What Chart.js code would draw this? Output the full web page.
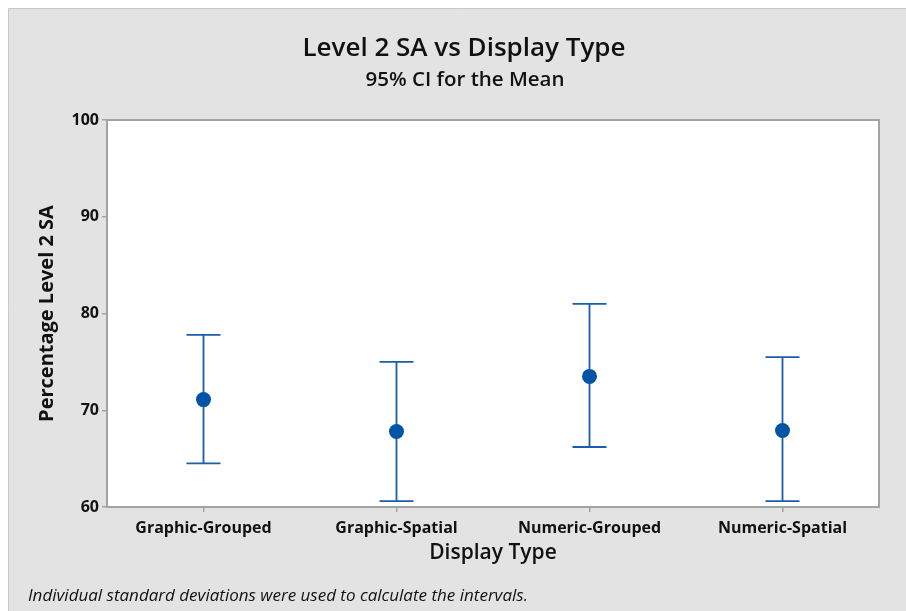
<!DOCTYPE html>
<html>
<head>
<meta charset="utf-8">
<script src="https://cdn.jsdelivr.net/npm/chart.js@4.4.1/dist/chart.umd.min.js"></script>
<style>
  body { margin: 0; background: #ffffff; }
  canvas { display: block; }
</style>
</head>
<body>
<canvas id="chart" width="906" height="611"></canvas>
<script>
// data
const categories = ['Graphic-Grouped', 'Graphic-Spatial', 'Numeric-Grouped', 'Numeric-Spatial'];
const means = [71.1, 67.8, 73.5, 67.9];
const lower = [64.5, 60.6, 66.2, 60.6];
const upper = [77.8, 75.0, 81.0, 75.5];
const yTicks = [60, 70, 80, 90, 100];

const titleText = 'Level 2 SA vs Display Type';
const subtitleText = '95% CI for the Mean';
const footerText = 'Individual standard deviations were used to calculate the intervals.';

const FONT = "'Open Sans', 'Noto Sans', sans-serif";

const colors = {
    panel: '#E3E3E3',
    panelEdge: '#C9C9C9',
    frame: '#A3A3A3',
    whisker: '#1A5DAB',
    marker: '#0054A6',
    text: '#111111',
};

// grey panel, white plot area, titles and footer
const backdrop = {
    id: 'backdrop',
    beforeDraw(chart) {
        const { ctx, chartArea: a, width, height } = chart;
        ctx.save();
        ctx.fillStyle = '#ffffff';
        ctx.fillRect(0, 0, width, height);
        ctx.fillStyle = colors.panel;
        ctx.fillRect(8, 8, width - 8, height - 8);
        ctx.strokeStyle = colors.panelEdge;
        ctx.lineWidth = 1;
        ctx.beginPath();
        ctx.moveTo(8.5, height);
        ctx.lineTo(8.5, 8.5);
        ctx.lineTo(width, 8.5);
        ctx.stroke();
        ctx.fillStyle = '#ffffff';
        ctx.fillRect(a.left, a.top, a.right - a.left, a.bottom - a.top);

        ctx.fillStyle = colors.text;
        ctx.textAlign = 'center';
        ctx.textBaseline = 'middle';
        ctx.font = '600 26px ' + FONT;
        ctx.fillText(titleText, 464, 49);
        ctx.font = '600 20.5px ' + FONT;
        ctx.fillText(subtitleText, 465, 80);

        ctx.textAlign = 'left';
        ctx.font = 'italic 17px ' + FONT;
        ctx.fillText(footerText, 28, 596);
        ctx.restore();
    },
    afterDraw(chart) {
        const { ctx, chartArea: a } = chart;
        ctx.save();
        ctx.strokeStyle = colors.frame;
        ctx.lineWidth = 2;
        ctx.strokeRect(a.left, a.top, a.right - a.left, a.bottom - a.top);
        ctx.restore();
    }
};

// 95% CI whiskers with caps, placed through the chart scales
const intervals = {
    id: 'intervals',
    beforeDatasetsDraw(chart) {
        const { ctx, scales } = chart;
        const capHalf = 17;
        ctx.save();
        ctx.strokeStyle = colors.whisker;
        ctx.lineWidth = 1.8;
        categories.forEach((c, i) => {
            const x = scales.x.getPixelForValue(i);
            const yLo = scales.y.getPixelForValue(lower[i]);
            const yHi = scales.y.getPixelForValue(upper[i]);
            ctx.beginPath();
            ctx.moveTo(x, yLo);
            ctx.lineTo(x, yHi);
            ctx.moveTo(x - capHalf, yHi);
            ctx.lineTo(x + capHalf, yHi);
            ctx.moveTo(x - capHalf, yLo);
            ctx.lineTo(x + capHalf, yLo);
            ctx.stroke();
        });
        ctx.restore();
    }
};

new Chart(document.getElementById('chart'), {
    type: 'line',
    data: {
        labels: categories,
        datasets: [{
            label: 'Mean',
            data: means,
            showLine: false,
            pointRadius: 7.5,
            pointHoverRadius: 7.5,
            pointBackgroundColor: colors.marker,
            pointBorderWidth: 0,
        }]
    },
    options: {
        responsive: false,
        animation: false,
        layout: {
            padding: { top: 120, left: 0, right: 27, bottom: 34 }
        },
        plugins: {
            legend: { display: false },
            tooltip: { enabled: false },
        },
        scales: {
            x: {
                type: 'category',
                offset: true,
                afterFit: (s) => { s.height = 70; },
                grid: {
                    drawOnChartArea: false,
                    drawTicks: true,
                    tickLength: 5,
                    color: colors.frame,
                    lineWidth: 1.5,
                },
                border: { display: false },
                ticks: {
                    color: colors.text,
                    padding: 7,
                    maxRotation: 0,
                    font: { family: FONT, size: 16, weight: 'bold' },
                },
                title: {
                    display: true,
                    text: 'Display Type',
                    color: colors.text,
                    padding: { top: 0, bottom: 11 },
                    font: { family: FONT, size: 21, weight: '600' },
                },
            },
            y: {
                min: yTicks[0],
                max: yTicks[yTicks.length - 1],
                afterFit: (s) => { s.width = 107; },
                afterBuildTicks: (s) => { s.ticks = yTicks.map(v => ({ value: v })); },
                grid: {
                    drawOnChartArea: false,
                    drawTicks: true,
                    tickLength: 5,
                    color: colors.frame,
                    lineWidth: 1.5,
                },
                border: { display: false },
                ticks: {
                    color: colors.text,
                    padding: 3,
                    font: { family: FONT, size: 16, weight: 'bold' },
                },
                title: {
                    display: true,
                    text: 'Percentage Level 2 SA',
                    color: colors.text,
                    padding: { top: 35, bottom: 0 },
                    font: { family: FONT, size: 20, weight: 'bold' },
                },
            }
        }
    },
    plugins: [backdrop, intervals]
});
</script>
</body>
</html>
